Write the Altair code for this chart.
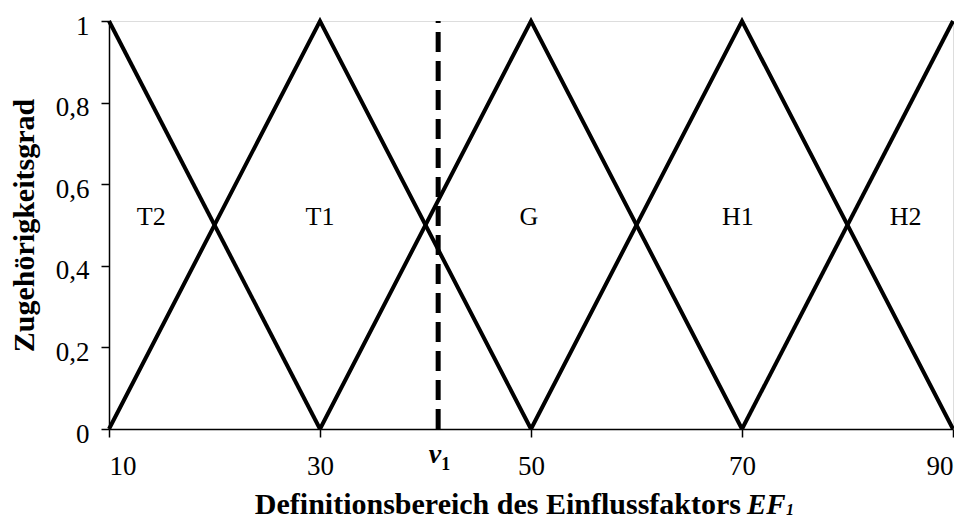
import altair as alt
import pandas as pd

# ---- data ----
set_names = ["T2", "T1", "G", "H1", "H2"]
t2_x, t2_y = [10, 30], [1, 0]
t1_x, t1_y = [10, 30, 50], [0, 1, 0]
g_x, g_y = [30, 50, 70], [0, 1, 0]
h1_x, h1_y = [50, 70, 90], [0, 1, 0]
h2_x, h2_y = [70, 90], [0, 1]

label_x = [14.0, 30.0, 49.8, 69.6, 85.5]
label_y = [0.5, 0.5, 0.5, 0.5, 0.5]

v1_x = 41.2
x_ticks = [10, 30, 50, 70, 90]
y_ticks = [0, 0.2, 0.4, 0.6, 0.8, 1]

x_title_main = "Definitionsbereich des Einflussfaktors"
x_title_ital = "EF"
x_title_sub = "1"
y_title = "Zugehörigkeitsgrad"

FONT = "Liberation Serif"

rows = []
for name, xs, ys in [("T2", t2_x, t2_y), ("T1", t1_x, t1_y), ("G", g_x, g_y),
                     ("H1", h1_x, h1_y), ("H2", h2_x, h2_y)]:
    for i, (xv, yv) in enumerate(zip(xs, ys)):
        rows.append({"set": name, "x": xv, "y": yv, "order": i})
lines_df = pd.DataFrame(rows)
labels_df = pd.DataFrame({"name": set_names, "x": label_x, "y": label_y})
v1_df = pd.DataFrame({"x": [v1_x], "y0": [0], "y1": [1]})

xscale = alt.Scale(domain=[10, 90], nice=False, zero=False)
yscale = alt.Scale(domain=[0, 1], nice=False)

xaxis = alt.Axis(values=x_ticks, title=None, labelFont=FONT, labelFontSize=27,
                 labelColor="black", labelPadding=16, labelFlush=True,
                 tickSize=8, tickColor="black", tickWidth=1.5,
                 domainColor="black", domainWidth=1.5, grid=False)
yaxis = alt.Axis(values=y_ticks, title=y_title,
                 labelExpr="replace(format(datum.value, '.1~f'), '.', ',')",
                 labelFont=FONT, labelFontSize=27, labelColor="black",
                 labelPadding=12, labelOffset=5,
                 tickSize=8, tickColor="black", tickWidth=1.5,
                 domainColor="black", domainWidth=1.5, grid=False,
                 titleFont=FONT, titleFontSize=30, titleFontWeight="bold",
                 titleColor="black", titleX=-85, titleY=204, titleAngle=270,
                 titleAlign="center", titleBaseline="middle")

lines = alt.Chart(lines_df).mark_line(color="black", strokeWidth=4).encode(
    x=alt.X("x:Q", scale=xscale, axis=xaxis),
    y=alt.Y("y:Q", scale=yscale, axis=yaxis),
    detail="set:N",
    order="order:O",
)

dashed = alt.Chart(v1_df).mark_rule(color="black", strokeWidth=5,
                                    strokeDash=[20, 9]).encode(
    x=alt.X("x:Q", scale=xscale),
    y=alt.Y("y0:Q", scale=yscale),
    y2="y1:Q",
)

set_labels = alt.Chart(labels_df).mark_text(
    font=FONT, fontSize=26, color="black", align="center", baseline="alphabetic"
).encode(
    x=alt.X("x:Q", scale=xscale),
    y=alt.Y("y:Q", scale=yscale),
    text="name:N",
)

v_label = alt.Chart(v1_df).mark_text(
    font=FONT, fontSize=28, fontWeight="bold", fontStyle="italic", color="black",
    align="right", baseline="alphabetic", dx=3
).encode(x=alt.X("x:Q", scale=xscale), y=alt.value(442), text=alt.value("v"))

v_sub = alt.Chart(v1_df).mark_text(
    font=FONT, fontSize=18, fontWeight="bold", color="black",
    align="left", baseline="alphabetic", dx=3
).encode(x=alt.X("x:Q", scale=xscale), y=alt.value(449), text=alt.value("1"))

title_df = pd.DataFrame({"t": [x_title_main]})
t_main = alt.Chart(title_df).mark_text(
    font=FONT, fontSize=30, fontWeight="bold", color="black",
    align="right", baseline="alphabetic"
).encode(x=alt.value(632), y=alt.value(493), text=alt.value(x_title_main))
t_ital = alt.Chart(title_df).mark_text(
    font=FONT, fontSize=29, fontWeight="bold", fontStyle="italic", color="black",
    align="left", baseline="alphabetic"
).encode(x=alt.value(638), y=alt.value(493), text=alt.value(x_title_ital))
t_sub = alt.Chart(title_df).mark_text(
    font=FONT, fontSize=16, fontWeight="bold", fontStyle="italic", color="black",
    align="left", baseline="alphabetic"
).encode(x=alt.value(677), y=alt.value(494), text=alt.value(x_title_sub))

chart = alt.layer(lines, dashed, set_labels, v_label, v_sub, t_main, t_ital, t_sub).properties(
    width=844, height=408,
    autosize=alt.AutoSizeParams(type="none"),
    padding={"left": 101, "top": 13, "right": 1, "bottom": 90},
).configure_view(stroke="black", strokeWidth=1.5).configure(background="white")

chart.save("out.html", embed_options={"renderer": "svg", "actions": False})
